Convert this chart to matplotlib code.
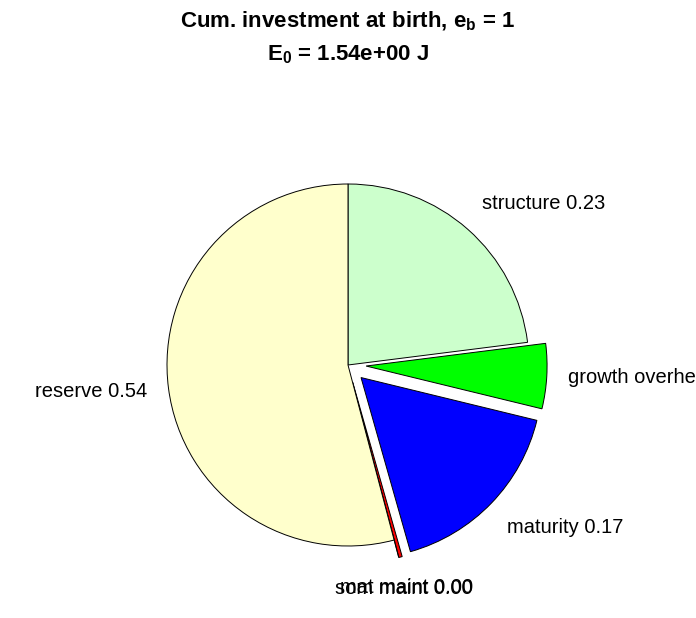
import numpy as np
import matplotlib
matplotlib.use("Agg")
import matplotlib.pyplot as plt

plt.rcParams["font.family"] = ["Liberation Sans", "DejaVu Sans"]
plt.rcParams["mathtext.fontset"] = "custom"
plt.rcParams["mathtext.bf"] = "Liberation Sans:bold"
plt.rcParams["mathtext.rm"] = "Liberation Sans"

# Cumulative investment fractions at birth
names = ["structure", "growth overhead", "maturity", "mat maint", "som maint", "reserve"]
fractions = [0.230, 0.058, 0.168, 0.003, 0.0, 0.541]
explode = [0.0, 0.1, 0.1, 0.1, 0.1, 0.0]
colors = ["#CCFFCC", "#00FF00", "#0000FF", "#FF0000", "#FF00FF", "#FFFFCC"]

labels = ["%s %.2f" % (n, v) for n, v in zip(names, fractions)]

fig = plt.figure(figsize=(6.96, 6.18), dpi=100)
ax = fig.add_axes([0, 0, 1, 1])

wedges, texts = ax.pie(
    fractions,
    explode=explode,
    labels=labels,
    colors=colors,
    startangle=90,
    counterclock=False,
    labeldistance=1.12,
    normalize=False,
    wedgeprops=dict(edgecolor="black", linewidth=0.7),
    textprops=dict(fontsize=14.5),
)

# align labels roughly the way the original does
for w, t in zip(wedges, texts):
    mid = np.deg2rad((w.theta1 + w.theta2) / 2)
    if abs(np.cos(mid)) < 0.3:
        t.set_horizontalalignment("center")
    if np.sin(mid) > 0.3:
        t.set_verticalalignment("bottom")
    elif np.sin(mid) < -0.3:
        t.set_verticalalignment("top")

# one data unit = pie radius, ~181 px
ax.set_aspect("auto")
ax.set_xlim(-348 / 181, 348 / 181)
ax.set_ylim(-253 / 181, 365 / 181)
ax.axis("off")

fig.text(0.5, 1 - 21 / 618, r"Cum. investment at birth, $\mathbf{e_b}$ = 1",
         ha="center", va="center", fontsize=16, fontweight="bold")
fig.text(0.5, 1 - 55 / 618, r"$\mathbf{E_0}$ = 1.54e+00 J",
         ha="center", va="center", fontsize=16, fontweight="bold")

fig.savefig("out.png", dpi=100)
